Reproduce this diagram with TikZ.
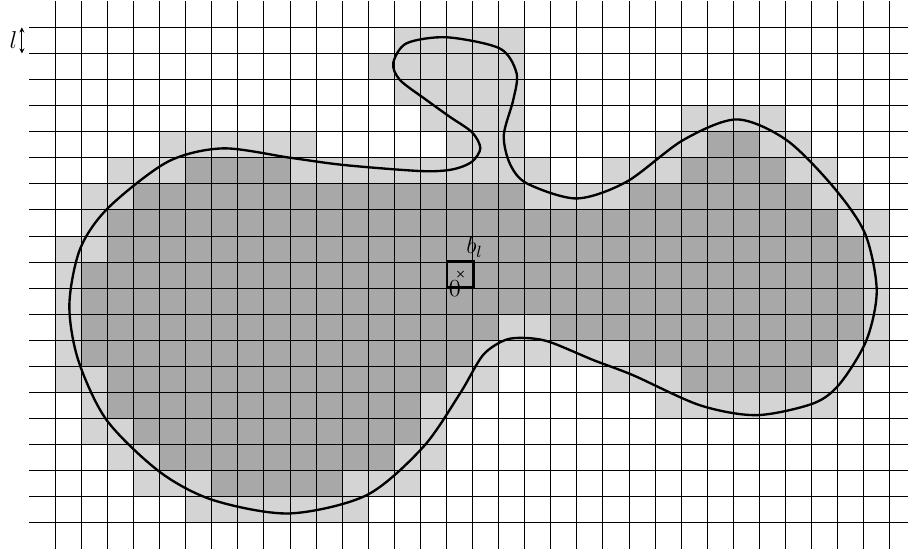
\documentclass[tikz,border=0pt]{standalone}
\usetikzlibrary{arrows.meta}
\definecolor{cellLight}{gray}{0.83}
\definecolor{cellDark}{gray}{0.66}

\begin{document}
\begin{tikzpicture}[x=0.45cm, y=0.45cm, every node/.style={font=\large},
  lightcell/.style={fill=cellLight},
  darkcell/.style={fill=cellDark},
  gridline/.style={black, line width=0.45pt},
  boundary/.style={black, line width=1.15pt}]
  \useasboundingbox (-17.12,-10.09) rectangle (17.70,11.05);

  % cells meeting the set (row / first column / last column)
  \foreach \r/\a/\b in {0/13/17, 1/12/17, 2/13/17, 3/14/17, 3/24/27,
                        4/4/9, 4/15/17, 4/23/28, 5/2/18, 5/21/29,
                        6/1/30, 7/1/31, 8/0/31, 9/0/31, 10/0/31,
                        11/0/31, 12/0/31, 13/0/16, 13/21/30, 14/1/15,
                        14/23/29, 15/1/14, 16/2/14, 17/3/13, 18/5/11}
    \fill[lightcell] (\a-15,9-\r) rectangle (\b-14,10-\r);

  % cells inside the set
  \foreach \r/\a/\b in {4/25/26, 5/5/8, 5/24/27, 6/3/17, 6/22/28,
                        7/2/29, 8/2/30, 9/1/30, 10/1/30, 11/1/16,
                        11/19/30, 12/1/15, 12/22/29, 13/2/14, 13/24/28,
                        14/2/13, 15/3/13, 16/4/12, 17/6/10}
    \fill[darkcell] (\a-15,9-\r) rectangle (\b-14,10-\r);

  % grid
  \foreach \x in {-15,...,17}
    \draw[gridline] (\x,-10) -- (\x,11);
  \foreach \y in {-9,...,10}
    \draw[gridline] (-16,\y) -- (17.70,\y);

  % boundary of the set
  \draw[boundary] plot[smooth cycle] coordinates {
    (-14.46,-0.65) (-14.05,1.50) (-12.98,3.07)
    (-10.70,4.84) (-8.58,5.36) (-5.99,5.00) (-3.91,4.72)
    (-0.98,4.49) (0.21,4.55) (0.97,4.84) (1.30,5.37) (0.98,5.98)
    (0.13,6.57) (-0.76,7.21) (-1.78,7.98) (-2.04,8.63) (-1.53,9.39)
    (0.01,9.62) (2.05,9.19) (2.69,8.24) (2.56,7.21) (2.20,5.87)
    (2.43,4.78) (3.08,4.02) (4.99,3.44) (6.91,4.08) (9.08,5.68)
    (11.13,6.47) (13.04,5.68) (14.83,3.89) (16.05,2.10) (16.50,-0.08)
    (16.11,-1.99) (15.09,-3.66) (14.07,-4.42) (11.89,-4.87)
    (9.72,-4.49) (7.16,-3.34) (5.64,-2.76) (3.95,-2.06) (3.01,-1.91)
    (2.25,-1.99) (1.40,-2.57) (0.52,-4.04) (-0.89,-6.09) (-3.06,-7.94)
    (-6.03,-8.64) (-8.94,-8.13) (-10.99,-7.05) (-13.03,-5.06) (-14.12,-2.76)};

  % the cell b_l at the origin
  \coordinate (O) at (0,0);
  \node[draw, line width=1pt, minimum size=0.45cm, inner sep=0pt,
        anchor=south west] (bcell) at (O) {};
  \node[above, inner sep=1pt] (blab) at (bcell.north east) {$b_l$};
  \node[right, inner sep=1pt] (zero) at (O) {$0$};
  \draw[line width=0.4pt] ([shift={(-1.5pt,-1.5pt)}]bcell.center) -- ([shift={(1.5pt,1.5pt)}]bcell.center)
                          ([shift={(-1.5pt,1.5pt)}]bcell.center) -- ([shift={(1.5pt,-1.5pt)}]bcell.center);

  % side length l
  \coordinate (lTop) at (-16.28,10);
  \coordinate (lBot) at (-16.28,9);
  \draw[line width=0.5pt, {Stealth[length=2.5pt,width=2.5pt]}-{Stealth[length=2.5pt,width=2.5pt]}]
    (lTop) -- (lBot) node[midway, left, inner sep=2pt] (llab) {$l$};
\end{tikzpicture}
\end{document}
